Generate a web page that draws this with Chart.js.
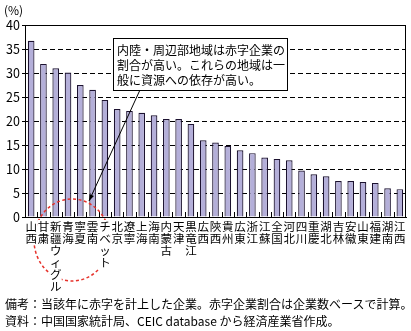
<!doctype html>
<html lang="ja" dir="ltr">
<meta charset="utf-8">
<style>
    body { margin: 0; background: #fff; font-family: "Noto Sans CJK JP", sans-serif; direction: ltr; }
    #wrap { position: relative; width: 411px; height: 296px; }
    .txt { position: absolute; left: 5px; font-size: 12px; line-height: 17px; color: #000; white-space: nowrap; }
</style>

<div id="wrap"><canvas id="chart"></canvas></div>
<div class="txt" style="top:295px">備考：当該年に赤字を計上した企業。赤字企業割合は企業数ベースで計算。</div>
<div class="txt" style="top:312px">資料：中国国家統計局、CEIC database から経済産業省作成。</div>

<script src="https://cdn.jsdelivr.net/npm/chart.js@4.4.8/dist/chart.umd.min.js"></script>
<script>
    const regions = ["山西", "甘粛", "新疆ウィグル", "青海", "寧夏", "雲南", "チベット", "北京", "遼寧", "上海",
        "海南", "内蒙古", "天津", "黒竜江", "広西", "陝西", "貴州", "広東", "浙江", "江蘇",
        "全国", "河北", "四川", "重慶", "湖北", "吉林", "安徽", "山東", "福建", "湖南", "江西"];
    const deficitShare = [36.7, 31.9, 31.0, 30.1, 27.5, 26.5, 24.4, 22.5, 22.1, 21.7,
        21.2, 20.4, 20.4, 19.4, 16.0, 15.5, 14.8, 13.9, 13.3, 12.4,
        12.1, 11.8, 9.7, 8.9, 8.5, 7.5, 7.5, 7.3, 7.1, 6.0, 5.8];
    const yMin = 0, yMax = 40, yStep = 5;
    const unitLabel = "(%)";
    const noteLines = ["内陸・周辺部地域は赤字企業の", "割合が高い。これらの地域は一", "般に資源への依存が高い。"];

    const FONT = "'Noto Sans CJK JP', sans-serif";
    const LABEL_LINE = 12;

    const decor = {
        id: "decor",
        afterDatasetsDraw(chart) {
            const {ctx, chartArea: a} = chart;
            ctx.save();
            ctx.strokeStyle = "#000";
            ctx.lineWidth = 1;
            ctx.strokeRect(Math.round(a.left) + 0.5, Math.round(a.top) + 0.5,
                Math.round(a.right - a.left) - 1, Math.round(a.bottom - a.top));
            // inward ticks between categories
            const w = (a.right - a.left) / regions.length;
            ctx.beginPath();
            for (let k = 1; k < regions.length; k++) {
                const px = Math.round(a.left + k * w) + 0.5;
                ctx.moveTo(px, a.bottom);
                ctx.lineTo(px, a.bottom - 5);
            }
            ctx.stroke();
            ctx.restore();
        },
        afterDraw(chart) {
            const {ctx, chartArea: a, scales: {x}} = chart;
            ctx.save();
            ctx.textAlign = "left";
            ctx.textBaseline = "middle";

            // dashed red ellipse, kept out of the tick label boxes
            ctx.save();
            ctx.beginPath();
            ctx.rect(0, 0, chart.width, chart.height);
            regions.forEach((r, i) => {
                const px = x.getPixelForValue(i);
                ctx.rect(px - 6, a.bottom + 3, 12, [...r].length * LABEL_LINE + 1);
            });
            ctx.clip("evenodd");
            ctx.beginPath();
            ctx.ellipse(72, 240, 38, 41, 0, 0, Math.PI * 2);
            ctx.strokeStyle = "#e6322b";
            ctx.lineWidth = 1.5;
            ctx.setLineDash([3, 2.5]);
            ctx.stroke();
            ctx.restore();

            // leader line with arrow
            const x1 = 139.5, y1 = 91, x2 = 89, y2 = 201;
            ctx.strokeStyle = "#000";
            ctx.fillStyle = "#000";
            ctx.lineWidth = 1;
            ctx.beginPath();
            ctx.moveTo(x1, y1);
            ctx.lineTo(x2, y2);
            ctx.stroke();
            const ang = Math.atan2(y2 - y1, x2 - x1);
            ctx.beginPath();
            ctx.moveTo(x2, y2);
            ctx.lineTo(x2 - 7 * Math.cos(ang - 0.35), y2 - 7 * Math.sin(ang - 0.35));
            ctx.lineTo(x2 - 7 * Math.cos(ang + 0.35), y2 - 7 * Math.sin(ang + 0.35));
            ctx.closePath();
            ctx.fill();

            // annotation box
            ctx.fillStyle = "#fff";
            ctx.fillRect(113.5, 38.5, 174, 52);
            ctx.strokeRect(113.5, 38.5, 174, 52);
            ctx.fillStyle = "#000";
            ctx.font = "12px " + FONT;
            noteLines.forEach((t, i) => ctx.fillText(t, 117, 50.5 + i * 15));
            ctx.restore();
        }
    };

    new Chart(document.getElementById("chart"), {
        type: "bar",
        data: {
            labels: regions.map(r => [...r]),
            datasets: [{
                data: deficitShare,
                backgroundColor: "#b4afd9",
                borderColor: "#1c1230",
                borderWidth: 1.2,
                borderSkipped: "bottom",
                categoryPercentage: 1,
                barPercentage: 0.54
            }]
        },
        options: {
            responsive: true,
            maintainAspectRatio: false,
            animation: false,
            layout: {padding: {top: 0, right: 5, left: 4, bottom: 0}},
            plugins: {
                legend: {display: false},
                tooltip: {enabled: false},
                title: {
                    display: true, text: unitLabel, align: "start", color: "#000",
                    font: {family: FONT, size: 12, weight: "normal", lineHeight: 1.2},
                    padding: {top: 3, bottom: 7.6}
                }
            },
            scales: {
                x: {
                    afterFit(s) { s.height = 79; },
                    grid: {display: false, drawTicks: false},
                    border: {display: true, color: "#000", width: 1},
                    ticks: {
                        autoSkip: false, maxRotation: 0, minRotation: 0, padding: 4,
                        color: "#000",
                        font: {family: FONT, size: 11.5, lineHeight: LABEL_LINE / 11.5}
                    }
                },
                y: {
                    min: yMin, max: yMax,
                    afterFit(s) { s.width = 21; },
                    grid: {color: "#000", lineWidth: 1, tickLength: 3, tickBorderDash: [], tickColor: "#000"},
                    border: {display: true, color: "#000", width: 1, dash: [5, 3]},
                    ticks: {
                        stepSize: yStep, padding: 2, color: "#000",
                        font: {family: FONT, size: 12.5}
                    }
                }
            }
        },
        plugins: [decor]
    });
</script>
